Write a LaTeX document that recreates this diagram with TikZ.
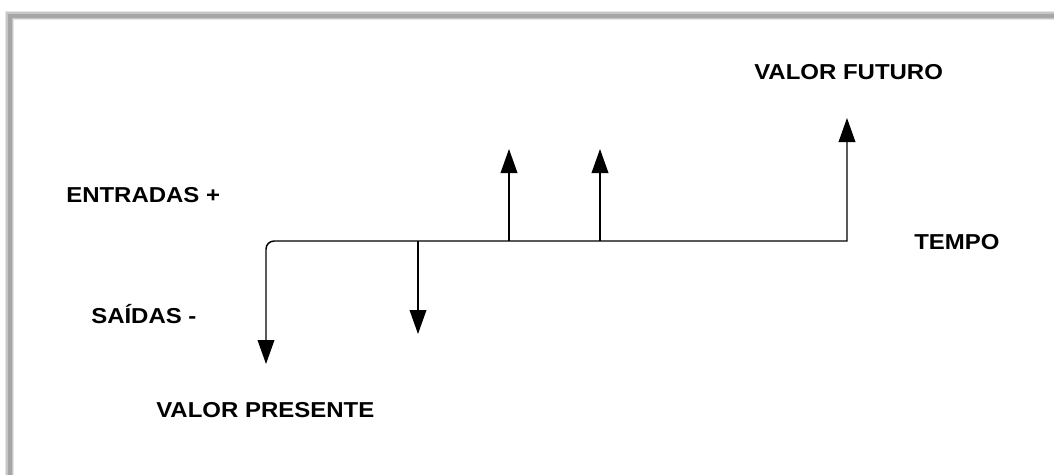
\documentclass[tikz,border=0pt]{standalone}
\usepackage{fontspec}
\newfontfamily\lblfont{Liberation Sans}[FakeStretch=1.11]
\usetikzlibrary{arrows.meta}
\begin{document}
\begin{tikzpicture}[x=0.75pt,y=-0.75pt,
  lbl/.style={inner sep=0pt,anchor=base west,font=\lblfont\bfseries\fontsize{16.2pt}{19pt}\selectfont},
  flow/.style={line width=1.1pt,line join=miter,-{Triangle[width=12.5pt,length=18pt]}},
  frameshade/.style={line cap=butt}]
\useasboundingbox (0,0) rectangle (1054,475);
% frame shadow
\draw[frameshade,gray!20,line width=7pt] (9.5,475) -- (9.5,15.5) -- (1054,15.5);
\draw[frameshade,gray!45,line width=5pt] (9.5,475) -- (9.5,15.5) -- (1054,15.5);
\draw[frameshade,gray!70,line width=3pt] (9.5,475) -- (9.5,15.5) -- (1054,15.5);
% labels
\node[lbl] (entradas) at (66,202) {ENTRADAS +};
\node[lbl] (saidas) at (91,323) {SAÍDAS -};
\node[lbl] (vp) at (156,417) {VALOR PRESENTE};
\node[lbl] (vf) at (754,79) {VALOR FUTURO};
\node[lbl] (tempo) at (914,249) {TEMPO};
% coordinates
\coordinate (pvtip) at (266,364);
\coordinate (start) at (266,241);
\coordinate (fvbase) at (847,241);
\coordinate (fvtip) at (847,118);
\coordinate (s1) at (418,241);
\coordinate (s1tip) at (418,334);
\coordinate (e1) at (509,241);
\coordinate (e1tip) at (509,149);
\coordinate (e2) at (600,241);
\coordinate (e2tip) at (600,149);
% time line
\draw[line width=1.1pt,line join=miter,{Triangle[width=12.5pt,length=18pt]}-{Triangle[width=12.5pt,length=18pt]}]
  (pvtip) [rounded corners=6pt] -- (start) [sharp corners] -- (fvbase) -- (fvtip);
\draw[flow] (s1) -- (s1tip);
\draw[flow] (e1) -- (e1tip);
\draw[flow] (e2) -- (e2tip);
\end{tikzpicture}
\end{document}
